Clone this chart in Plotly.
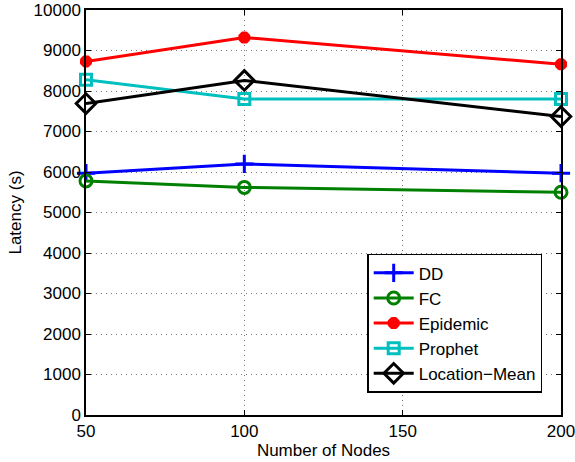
import plotly.graph_objects as go

nodes = [50, 100, 200]
dd = [5970, 6200, 5970]
fc = [5780, 5620, 5500]
epidemic = [8730, 9320, 8660]
prophet = [8280, 7800, 7800]
location_mean = [7690, 8260, 7370]

x_ticks = [50, 100, 150, 200]
y_ticks = list(range(0, 10001, 1000))
y_ticktext = [str(v) for v in y_ticks]

series = [
    ("DD", dd, "#0000ff", "cross-thin-open", 13, 3),
    ("FC", fc, "#008000", "circle-open", 12, 3),
    ("Epidemic", epidemic, "#ff0000", "asterisk-open", 10, 4.5),
    ("Prophet", prophet, "#00bfbf", "square-open", 11, 3),
    ("Location\u2212Mean", location_mean, "#000000", "diamond-open", 15, 3),
]

fig = go.Figure()
for name, vals, color, sym, size, mlw in series:
    fig.add_trace(go.Scatter(
        x=nodes, y=vals, name=name, mode="lines+markers",
        line=dict(color=color, width=3),
        marker=dict(symbol=sym, size=size, color=color,
                    line=dict(color=color, width=mlw)),
        cliponaxis=False,
    ))

axis_common = dict(
    showline=True, linecolor="black", linewidth=1.5, mirror="ticks",
    ticks="inside", ticklen=5, tickcolor="black",
    showgrid=True, gridcolor="#777777", griddash="1px,4px", gridwidth=1,
    zeroline=False, tickfont=dict(size=17, color="black"),
    automargin=False, ticklabeloverflow="allow",
)

fig.update_layout(
    width=575, height=462,
    margin=dict(l=86, r=14, t=10, b=47),
    paper_bgcolor="white", plot_bgcolor="white",
    font=dict(family="Liberation Sans, Arial, sans-serif", color="black"),
    xaxis=dict(range=[50, 200], tickvals=x_ticks,
               title=dict(text="Number of Nodes", font=dict(size=17), standoff=0),
               **axis_common),
    yaxis=dict(range=[0, 10000], tickvals=y_ticks, ticktext=y_ticktext,
               title=dict(text="Latency (s)", font=dict(size=17), standoff=8),
               **axis_common),
    legend=dict(x=0.592, y=0.398, xanchor="left", yanchor="top",
                bgcolor="white", bordercolor="black", borderwidth=1.5,
                font=dict(size=17), tracegroupgap=0, itemwidth=40),
    showlegend=True,
)

fig.write_html("out.html")
